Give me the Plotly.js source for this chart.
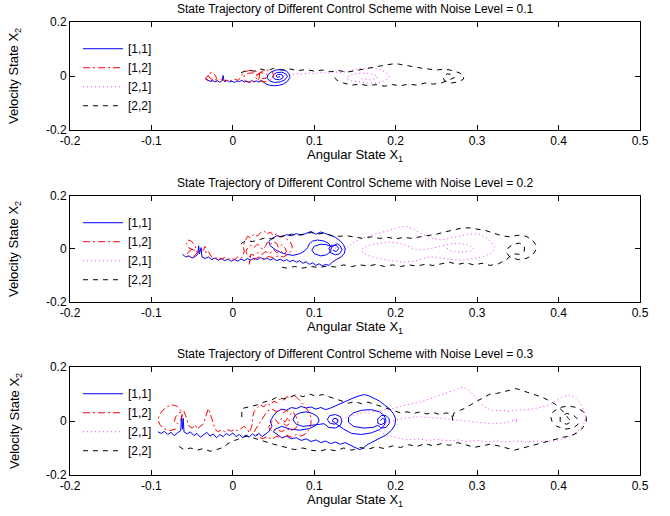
<!DOCTYPE html>
<html><head><meta charset="utf-8">
<script src="https://cdn.plot.ly/plotly-3.0.1.min.js"></script>
<style>html,body{margin:0;padding:0;background:#fff;}#plot{width:670px;height:516px;}</style>
</head><body><div id="plot"></div>
<script>
const noiseLevels = [0.1, 0.2, 0.3];
const seriesNames = ['[1,1]', '[1,2]', '[2,1]', '[2,2]'];
const xTickVals = [-0.2, -0.1, 0, 0.1, 0.2, 0.3, 0.4, 0.5];
const xTickText = ['-0.2', '-0.1', '0', '0.1', '0.2', '0.3', '0.4', '0.5'];
const yTickVals = [-0.2, 0, 0.2];
const yTickText = ['-0.2', '0', '0.2'];

// ---- Noise level 0.1 : [x1, x2] points ----
const n1_s11 = [[-0.034,-0.010],[-0.031,-0.016],[-0.028,-0.020],[-0.025,-0.015],[-0.022,-0.022],[-0.019,-0.018],[-0.016,-0.023],[-0.013,-0.017],[-0.012,0.002],[-0.011,-0.015],[-0.010,-0.021],[-0.007,-0.016],[-0.004,-0.022],[-0.001,-0.019],[0.002,-0.024],[0.005,-0.018],[0.008,-0.021],[0.011,-0.016],[0.014,-0.022],[0.017,-0.019],[0.020,-0.024],[0.023,-0.017],[0.026,-0.021],[0.029,-0.018],[0.032,-0.023],[0.035,-0.016],[0.038,-0.024],[0.041,-0.030],[0.045,-0.034],[0.050,-0.036],[0.056,-0.035],[0.062,-0.030],[0.067,-0.020],[0.070,-0.006],[0.069,0.008],[0.066,0.018],[0.060,0.024],[0.053,0.022],[0.047,0.015],[0.043,0.004],[0.042,-0.008],[0.045,-0.018],[0.051,-0.024],[0.058,-0.022],[0.064,-0.014],[0.067,-0.002],[0.065,0.008],[0.060,0.014],[0.054,0.013],[0.050,0.005],[0.049,-0.005],[0.052,-0.012],[0.057,-0.014],[0.061,-0.008],[0.062,0.000],[0.059,0.006],[0.055,0.006],[0.053,0.000],[0.055,-0.005],[0.058,-0.002]];
const n1_s12 = [[-0.030,0.002],[-0.033,-0.006],[-0.032,-0.015],[-0.028,-0.020],[-0.023,-0.018],[-0.020,-0.010],[-0.021,0.000],[-0.024,0.010],[-0.028,0.012],[-0.031,0.005],[-0.028,-0.008],[-0.024,-0.014],[-0.018,-0.016],[-0.014,-0.012],[-0.010,-0.018],[-0.006,-0.013],[-0.002,-0.017],[0.002,-0.011],[0.006,-0.016],[0.009,-0.008],[0.011,0.004],[0.014,0.014],[0.019,0.020],[0.025,0.021],[0.030,0.015],[0.033,0.004],[0.032,-0.010],[0.028,-0.020],[0.022,-0.024],[0.016,-0.020],[0.013,-0.010],[0.014,0.002],[0.019,0.010],[0.025,0.012],[0.029,0.006],[0.030,-0.004],[0.033,0.012],[0.038,0.020],[0.043,0.022],[0.048,0.016],[0.050,0.004],[0.048,-0.010],[0.043,-0.020],[0.037,-0.022],[0.031,-0.016],[0.028,-0.006],[0.030,0.006],[0.034,0.012],[0.040,0.010],[0.043,0.002],[0.041,-0.008],[0.036,-0.010]];
const n1_s21 = [[0.065,-0.005],[0.072,0.004],[0.078,0.010],[0.085,0.006],[0.092,0.012],[0.100,0.009],[0.108,0.014],[0.116,0.010],[0.124,0.016],[0.132,0.012],[0.140,0.018],[0.148,0.022],[0.156,0.026],[0.164,0.028],[0.172,0.030],[0.180,0.025],[0.187,0.015],[0.192,0.002],[0.190,-0.012],[0.183,-0.022],[0.174,-0.027],[0.164,-0.025],[0.154,-0.022],[0.146,-0.018],[0.140,-0.010],[0.142,0.000],[0.150,0.008],[0.160,0.010],[0.170,0.008],[0.178,0.000],[0.176,-0.010],[0.168,-0.014],[0.158,-0.010]];
const n1_s22 = [[0.010,0.012],[0.018,0.022],[0.026,0.018],[0.034,0.026],[0.042,0.020],[0.050,0.028],[0.060,0.022],[0.070,0.026],[0.080,0.020],[0.090,0.024],[0.100,0.018],[0.110,0.022],[0.120,0.016],[0.130,0.020],[0.140,0.014],[0.150,0.020],[0.160,0.026],[0.170,0.030],[0.180,0.036],[0.190,0.042],[0.200,0.046],[0.210,0.040],[0.220,0.034],[0.230,0.030],[0.240,0.026],[0.250,0.022],[0.260,0.026],[0.270,0.020],[0.278,0.012],[0.284,0.002],[0.283,-0.012],[0.277,-0.022],[0.268,-0.026],[0.260,-0.018],[0.258,-0.004],[0.263,0.008],[0.270,0.006],[0.272,-0.006],[0.266,-0.014],[0.256,-0.026],[0.246,-0.030],[0.236,-0.026],[0.226,-0.034],[0.216,-0.030],[0.206,-0.036],[0.196,-0.032],[0.186,-0.038],[0.176,-0.032],[0.166,-0.036],[0.156,-0.030],[0.146,-0.034],[0.136,-0.026],[0.128,-0.016],[0.124,-0.004]];

// ---- Noise level 0.2 ----
const n2_s11 = [[-0.062,-0.020],[-0.058,-0.030],[-0.054,-0.026],[-0.050,-0.034],[-0.046,-0.028],[-0.043,-0.020],[-0.042,0.012],[-0.041,-0.018],[-0.039,0.005],[-0.038,-0.030],[-0.034,-0.036],[-0.030,-0.030],[-0.026,-0.040],[-0.022,-0.034],[-0.018,-0.042],[-0.014,-0.036],[-0.010,-0.044],[-0.006,-0.038],[-0.002,-0.046],[0.002,-0.040],[0.006,-0.046],[0.010,-0.038],[0.014,-0.044],[0.018,-0.036],[0.022,-0.042],[0.026,-0.034],[0.030,-0.040],[0.034,-0.032],[0.038,-0.040],[0.042,-0.034],[0.046,-0.042],[0.050,-0.036],[0.054,-0.044],[0.058,-0.038],[0.062,-0.046],[0.066,-0.040],[0.070,-0.048],[0.074,-0.042],[0.078,-0.050],[0.082,-0.044],[0.086,-0.054],[0.090,-0.048],[0.094,-0.058],[0.098,-0.052],[0.102,-0.062],[0.106,-0.056],[0.110,-0.064],[0.114,-0.058],[0.118,-0.062],[0.122,-0.050],[0.127,-0.040],[0.133,-0.030],[0.137,-0.016],[0.138,0.000],[0.136,0.016],[0.132,0.030],[0.126,0.044],[0.120,0.052],[0.114,0.058],[0.108,0.064],[0.102,0.056],[0.096,0.066],[0.090,0.058],[0.084,0.052],[0.078,0.058],[0.072,0.050],[0.066,0.054],[0.060,0.046],[0.054,0.050],[0.048,0.040],[0.044,0.028],[0.046,0.012],[0.052,-0.002],[0.058,-0.012],[0.066,-0.020],[0.074,-0.024],[0.082,-0.018],[0.088,-0.008],[0.092,0.006],[0.094,0.020],[0.098,0.030],[0.104,0.034],[0.112,0.030],[0.118,0.020],[0.121,0.006],[0.120,-0.010],[0.115,-0.022],[0.108,-0.026],[0.100,-0.018],[0.097,-0.004],[0.100,0.010],[0.107,0.018],[0.115,0.016],[0.122,0.008],[0.128,0.020],[0.132,0.012],[0.134,-0.004],[0.131,-0.018],[0.126,-0.022],[0.120,-0.014],[0.118,0.002],[0.121,0.014],[0.127,0.014],[0.130,0.002],[0.127,-0.010],[0.123,-0.004]];
const n2_s12 = [[-0.050,0.000],[-0.055,-0.012],[-0.056,-0.024],[-0.052,-0.030],[-0.047,-0.026],[-0.044,-0.014],[-0.045,0.000],[-0.047,0.016],[-0.051,0.030],[-0.055,0.034],[-0.057,0.020],[-0.054,0.004],[-0.048,-0.004],[-0.042,-0.008],[-0.036,-0.004],[-0.034,0.010],[-0.033,-0.016],[-0.030,-0.010],[-0.026,-0.030],[-0.022,-0.036],[-0.018,-0.030],[-0.014,-0.038],[-0.010,-0.032],[-0.006,-0.040],[-0.002,-0.034],[0.002,-0.040],[0.006,-0.030],[0.009,-0.036],[0.012,-0.028],[0.014,-0.010],[0.013,0.010],[0.015,0.030],[0.018,0.048],[0.022,0.042],[0.026,0.056],[0.030,0.048],[0.034,0.062],[0.038,0.068],[0.042,0.056],[0.046,0.064],[0.050,0.050],[0.054,0.058],[0.058,0.044],[0.062,0.050],[0.066,0.038],[0.070,0.028],[0.073,0.012],[0.072,-0.006],[0.068,-0.020],[0.062,-0.030],[0.056,-0.026],[0.050,-0.034],[0.044,-0.028],[0.038,-0.036],[0.032,-0.030],[0.026,-0.040],[0.022,-0.032],[0.018,-0.024],[0.016,-0.010],[0.018,0.004],[0.022,0.014],[0.026,0.006],[0.030,0.018],[0.034,0.010],[0.036,-0.002],[0.040,0.010],[0.042,0.024],[0.046,0.016],[0.050,0.028],[0.054,0.020],[0.056,0.006],[0.060,0.016],[0.064,0.004],[0.066,-0.010],[0.062,-0.018],[0.058,-0.006],[0.054,-0.014],[0.050,-0.002],[0.046,-0.016],[0.040,-0.010],[0.036,-0.020],[0.030,-0.014],[0.026,-0.024],[0.022,-0.020],[0.020,-0.060],[0.021,-0.040]];
const n2_s21 = [[0.118,0.000],[0.124,0.012],[0.128,-0.006],[0.132,0.008],[0.138,0.000],[0.144,0.016],[0.150,0.028],[0.158,0.040],[0.166,0.048],[0.176,0.056],[0.186,0.064],[0.196,0.074],[0.204,0.082],[0.212,0.086],[0.220,0.078],[0.228,0.064],[0.236,0.050],[0.246,0.040],[0.256,0.034],[0.266,0.040],[0.276,0.048],[0.286,0.054],[0.296,0.058],[0.304,0.054],[0.312,0.040],[0.318,0.022],[0.322,0.004],[0.318,-0.014],[0.308,-0.028],[0.296,-0.036],[0.282,-0.042],[0.268,-0.040],[0.254,-0.034],[0.242,-0.030],[0.232,-0.038],[0.222,-0.046],[0.210,-0.050],[0.198,-0.046],[0.186,-0.040],[0.174,-0.032],[0.164,-0.022],[0.158,-0.010],[0.160,0.004],[0.168,0.014],[0.180,0.022],[0.192,0.026],[0.204,0.022],[0.214,0.012],[0.222,0.000],[0.232,-0.004],[0.244,0.002],[0.254,0.010],[0.264,0.018],[0.276,0.022],[0.288,0.016],[0.296,0.004],[0.292,-0.008],[0.280,-0.012],[0.268,-0.006],[0.262,0.004]];
const n2_s22 = [[0.010,0.020],[0.016,0.032],[0.024,0.028],[0.032,0.036],[0.040,0.042],[0.048,0.038],[0.056,0.046],[0.064,0.050],[0.072,0.056],[0.080,0.052],[0.088,0.058],[0.096,0.062],[0.104,0.056],[0.112,0.060],[0.120,0.052],[0.130,0.048],[0.140,0.050],[0.150,0.044],[0.160,0.040],[0.170,0.046],[0.180,0.040],[0.190,0.044],[0.200,0.038],[0.210,0.044],[0.220,0.040],[0.230,0.046],[0.240,0.050],[0.250,0.056],[0.260,0.064],[0.270,0.072],[0.280,0.078],[0.290,0.080],[0.300,0.076],[0.310,0.070],[0.320,0.060],[0.330,0.050],[0.340,0.046],[0.350,0.052],[0.360,0.048],[0.368,0.034],[0.372,0.016],[0.372,-0.004],[0.368,-0.024],[0.360,-0.036],[0.350,-0.040],[0.340,-0.030],[0.336,-0.014],[0.338,0.004],[0.344,0.018],[0.352,0.022],[0.358,0.010],[0.358,-0.008],[0.352,-0.020],[0.344,-0.018],[0.336,-0.040],[0.326,-0.056],[0.316,-0.062],[0.306,-0.054],[0.296,-0.060],[0.286,-0.052],[0.276,-0.058],[0.266,-0.050],[0.256,-0.056],[0.246,-0.062],[0.236,-0.058],[0.226,-0.064],[0.216,-0.060],[0.206,-0.066],[0.196,-0.060],[0.186,-0.066],[0.176,-0.058],[0.166,-0.064],[0.156,-0.060],[0.146,-0.066],[0.136,-0.060],[0.126,-0.068],[0.116,-0.064],[0.106,-0.070],[0.096,-0.066],[0.086,-0.072],[0.076,-0.066],[0.066,-0.072],[0.056,-0.066]];

// ---- Noise level 0.3 ----
const n3_s11 = [[-0.092,-0.040],[-0.088,-0.046],[-0.084,-0.038],[-0.080,-0.050],[-0.076,-0.042],[-0.072,-0.054],[-0.068,-0.044],[-0.064,-0.036],[-0.063,0.020],[-0.062,-0.030],[-0.061,0.010],[-0.060,-0.040],[-0.056,-0.048],[-0.052,-0.040],[-0.048,-0.054],[-0.044,-0.046],[-0.040,-0.060],[-0.036,-0.050],[-0.032,-0.042],[-0.028,-0.056],[-0.024,-0.048],[-0.020,-0.062],[-0.016,-0.050],[-0.012,-0.058],[-0.008,-0.046],[-0.004,-0.054],[0.000,-0.044],[0.004,-0.058],[0.008,-0.050],[0.012,-0.062],[0.016,-0.052],[0.020,-0.060],[0.024,-0.048],[0.028,-0.056],[0.032,-0.046],[0.036,-0.058],[0.040,-0.050],[0.044,-0.040],[0.048,-0.020],[0.046,0.000],[0.050,0.020],[0.054,0.034],[0.060,0.044],[0.066,0.040],[0.072,0.050],[0.078,0.046],[0.084,0.054],[0.090,0.048],[0.096,0.052],[0.102,0.044],[0.108,0.050],[0.114,0.042],[0.120,0.048],[0.126,0.056],[0.132,0.066],[0.138,0.072],[0.144,0.080],[0.150,0.088],[0.156,0.094],[0.162,0.098],[0.168,0.092],[0.174,0.082],[0.180,0.074],[0.186,0.060],[0.192,0.046],[0.197,0.028],[0.200,0.008],[0.199,-0.014],[0.195,-0.034],[0.188,-0.052],[0.180,-0.064],[0.172,-0.074],[0.166,-0.086],[0.160,-0.100],[0.156,-0.106],[0.150,-0.098],[0.144,-0.088],[0.138,-0.080],[0.132,-0.086],[0.126,-0.078],[0.120,-0.084],[0.114,-0.074],[0.108,-0.080],[0.102,-0.070],[0.096,-0.076],[0.090,-0.066],[0.084,-0.072],[0.078,-0.062],[0.072,-0.066],[0.066,-0.056],[0.060,-0.062],[0.054,-0.050],[0.050,-0.040],[0.052,-0.030],[0.060,-0.020],[0.070,-0.030],[0.082,-0.034],[0.094,-0.028],[0.102,-0.016],[0.106,0.000],[0.104,0.016],[0.098,0.028],[0.090,0.034],[0.082,0.030],[0.076,0.020],[0.074,0.004],[0.078,-0.012],[0.086,-0.020],[0.096,-0.016],[0.112,-0.010],[0.118,-0.024],[0.126,-0.026],[0.132,-0.016],[0.134,0.000],[0.132,0.016],[0.126,0.024],[0.119,0.020],[0.116,0.006],[0.119,-0.008],[0.125,-0.012],[0.129,-0.004],[0.128,0.008],[0.124,0.010],[0.122,0.000],[0.136,-0.030],[0.146,-0.046],[0.158,-0.050],[0.170,-0.044],[0.180,-0.032],[0.186,-0.016],[0.188,0.002],[0.186,0.020],[0.180,0.034],[0.170,0.042],[0.158,0.040],[0.148,0.030],[0.142,0.014],[0.142,-0.004],[0.148,-0.020],[0.160,-0.026],[0.172,-0.024],[0.178,-0.016],[0.182,-0.026],[0.188,-0.024],[0.192,-0.010],[0.192,0.008],[0.188,0.020],[0.182,0.020],[0.178,0.008],[0.178,-0.008],[0.182,-0.014],[0.186,-0.008],[0.187,0.004],[0.184,0.010],[0.181,0.002]];
const n3_s12 = [[-0.070,-0.030],[-0.078,-0.036],[-0.085,-0.028],[-0.090,-0.012],[-0.092,0.006],[-0.090,0.024],[-0.086,0.040],[-0.080,0.054],[-0.074,0.060],[-0.068,0.054],[-0.064,0.040],[-0.062,0.022],[-0.064,0.004],[-0.068,-0.010],[-0.072,-0.002],[-0.070,0.016],[-0.066,0.030],[-0.060,0.036],[-0.058,0.020],[-0.056,0.002],[-0.054,-0.018],[-0.050,-0.026],[-0.046,-0.014],[-0.044,-0.030],[-0.040,-0.020],[-0.036,-0.010],[-0.034,0.010],[-0.032,0.030],[-0.030,0.046],[-0.028,0.030],[-0.026,0.010],[-0.024,-0.010],[-0.022,-0.030],[-0.018,-0.040],[-0.014,-0.032],[-0.010,-0.040],[-0.006,-0.032],[-0.002,-0.038],[0.002,-0.030],[0.006,-0.036],[0.010,-0.028],[0.014,-0.020],[0.018,-0.030],[0.020,-0.044],[0.022,-0.030],[0.024,-0.010],[0.024,0.012],[0.026,0.034],[0.030,0.050],[0.034,0.060],[0.038,0.052],[0.042,0.066],[0.046,0.058],[0.050,0.074],[0.054,0.068],[0.058,0.082],[0.062,0.076],[0.066,0.090],[0.070,0.084],[0.074,0.096],[0.078,0.088],[0.082,0.078],[0.086,0.064],[0.090,0.048],[0.094,0.030],[0.096,0.010],[0.096,-0.010],[0.094,-0.030],[0.090,-0.046],[0.084,-0.056],[0.078,-0.050],[0.072,-0.060],[0.066,-0.052],[0.060,-0.064],[0.054,-0.056],[0.048,-0.068],[0.042,-0.058],[0.036,-0.066],[0.030,-0.054],[0.026,-0.040],[0.030,-0.020],[0.034,0.000],[0.038,0.020],[0.042,0.036],[0.048,0.044],[0.054,0.034],[0.058,0.046],[0.062,0.030],[0.066,0.040],[0.070,0.024],[0.074,0.034],[0.078,0.014],[0.080,-0.006],[0.078,-0.024],[0.072,-0.036],[0.066,-0.028],[0.060,-0.040],[0.054,-0.030],[0.048,-0.038],[0.044,-0.024],[0.046,-0.006],[0.052,0.006],[0.056,-0.010],[0.060,0.010],[0.064,-0.004],[0.068,0.014],[0.070,-0.008],[0.066,-0.018],[0.062,-0.008]];
const n3_s21 = [[0.120,-0.010],[0.128,0.000],[0.136,0.012],[0.146,0.020],[0.156,0.028],[0.166,0.032],[0.176,0.036],[0.186,0.040],[0.196,0.046],[0.206,0.054],[0.216,0.060],[0.226,0.068],[0.236,0.076],[0.246,0.086],[0.256,0.096],[0.266,0.106],[0.276,0.118],[0.282,0.126],[0.288,0.118],[0.294,0.100],[0.300,0.080],[0.306,0.060],[0.312,0.046],[0.320,0.038],[0.330,0.040],[0.340,0.036],[0.350,0.042],[0.360,0.040],[0.370,0.046],[0.380,0.052],[0.390,0.062],[0.398,0.078],[0.406,0.090],[0.414,0.096],[0.420,0.088],[0.426,0.070],[0.430,0.046],[0.433,0.020],[0.432,-0.006],[0.426,-0.030],[0.418,-0.050],[0.408,-0.064],[0.396,-0.072],[0.384,-0.076],[0.372,-0.074],[0.360,-0.078],[0.348,-0.074],[0.336,-0.078],[0.324,-0.074],[0.312,-0.078],[0.300,-0.072],[0.288,-0.076],[0.276,-0.070],[0.264,-0.074],[0.252,-0.068],[0.240,-0.072],[0.228,-0.066],[0.216,-0.070],[0.204,-0.064],[0.194,-0.056],[0.186,-0.048],[0.180,-0.036],[0.184,-0.010],[0.196,0.000],[0.210,0.010],[0.224,0.016],[0.240,0.014],[0.256,0.010],[0.272,0.004],[0.288,0.000],[0.304,-0.006],[0.320,-0.010],[0.336,-0.006],[0.346,0.002],[0.350,0.008],[0.346,-0.004],[0.352,0.000]];
const n3_s22 = [[-0.066,-0.094],[-0.060,-0.106],[-0.052,-0.100],[-0.044,-0.108],[-0.036,-0.102],[-0.028,-0.112],[-0.020,-0.106],[-0.012,-0.098],[-0.006,-0.084],[0.000,-0.074],[0.006,-0.068],[0.012,-0.060],[0.018,-0.056],[0.026,-0.064],[0.034,-0.072],[0.042,-0.080],[0.050,-0.086],[0.058,-0.092],[0.066,-0.098],[0.076,-0.106],[0.086,-0.100],[0.096,-0.108],[0.106,-0.112],[0.116,-0.104],[0.126,-0.110],[0.136,-0.100],[0.146,-0.108],[0.156,-0.098],[0.166,-0.104],[0.176,-0.096],[0.186,-0.102],[0.196,-0.092],[0.206,-0.098],[0.216,-0.088],[0.226,-0.094],[0.236,-0.084],[0.246,-0.092],[0.256,-0.084],[0.266,-0.090],[0.276,-0.080],[0.286,-0.088],[0.296,-0.098],[0.306,-0.092],[0.316,-0.086],[0.326,-0.092],[0.336,-0.100],[0.346,-0.108],[0.356,-0.100],[0.366,-0.092],[0.376,-0.084],[0.386,-0.076],[0.396,-0.066],[0.406,-0.060],[0.416,-0.054],[0.424,-0.042],[0.430,-0.024],[0.434,-0.004],[0.434,0.018],[0.430,0.036],[0.422,0.050],[0.412,0.056],[0.402,0.050],[0.394,0.036],[0.390,0.018],[0.392,-0.002],[0.398,-0.020],[0.408,-0.030],[0.418,-0.026],[0.424,-0.012],[0.424,0.006],[0.418,0.022],[0.410,0.028],[0.402,0.016],[0.402,-0.004],[0.410,-0.012],[0.416,-0.002],[0.412,0.010],[0.404,0.040],[0.396,0.062],[0.388,0.076],[0.380,0.088],[0.372,0.096],[0.364,0.104],[0.356,0.114],[0.348,0.120],[0.340,0.114],[0.332,0.108],[0.324,0.102],[0.316,0.100],[0.308,0.088],[0.300,0.074],[0.292,0.060],[0.284,0.046],[0.276,0.036],[0.271,0.028],[0.270,0.000],[0.269,0.026],[0.262,0.030],[0.254,0.024],[0.246,0.032],[0.238,0.026],[0.230,0.034],[0.222,0.028],[0.214,0.034],[0.206,0.030],[0.198,0.038],[0.190,0.046],[0.182,0.054],[0.174,0.062],[0.166,0.070],[0.158,0.064],[0.150,0.072],[0.142,0.066],[0.134,0.074],[0.126,0.082],[0.118,0.090],[0.110,0.098],[0.102,0.092],[0.094,0.100],[0.086,0.090],[0.078,0.098],[0.070,0.088],[0.062,0.082],[0.054,0.088],[0.046,0.076],[0.038,0.070],[0.030,0.060],[0.022,0.054],[0.014,0.050],[0.011,0.046],[0.011,0.000]];

const panels = [
  [n1_s11, n1_s12, n1_s21, n1_s22],
  [n2_s11, n2_s12, n2_s21, n2_s22],
  [n3_s11, n3_s12, n3_s21, n3_s22]
];
const lineStyles = [
  {color: '#0000ff', width: 1, dash: 'solid'},
  {color: '#ff0000', width: 1, dash: '7px,3px,2px,3px'},
  {color: '#ff33ff', width: 1, dash: '1px,3px'},
  {color: '#000000', width: 1, dash: '5px,5px'}
];
const FONT = 'Liberation Sans, Arial, Helvetica, sans-serif';
const domains = [[0.7616, 1], [0.3819, 0.6159], [0, 0.2384]];
const legendNames = ['legend', 'legend2', 'legend3'];

const traces = [];
panels.forEach((series, p) => {
  series.forEach((pts, s) => {
    traces.push({
      type: 'scatter', mode: 'lines',
      x: pts.map(d => d[0]), y: pts.map(d => d[1]),
      name: seriesNames[s],
      line: lineStyles[s],
      xaxis: p === 0 ? 'x' : 'x' + (p + 1),
      yaxis: p === 0 ? 'y' : 'y' + (p + 1),
      legend: legendNames[p],
      hoverinfo: 'skip'
    });
  });
});

const layout = {
  width: 670, height: 516,
  margin: {l: 70, r: 30, t: 22, b: 41},
  paper_bgcolor: '#fff', plot_bgcolor: '#fff',
  font: {family: FONT, size: 12, color: '#000'},
  showlegend: true,
  annotations: []
};
domains.forEach((dom, p) => {
  const xk = p === 0 ? 'xaxis' : 'xaxis' + (p + 1);
  const yk = p === 0 ? 'yaxis' : 'yaxis' + (p + 1);
  const yref = p === 0 ? 'y' : 'y' + (p + 1);
  const xref = p === 0 ? 'x' : 'x' + (p + 1);
  layout[xk] = {
    domain: [0, 1], anchor: yref, range: [-0.2, 0.5],
    tickmode: 'array', tickvals: xTickVals, ticktext: xTickText,
    ticks: 'inside', ticklen: 5, tickcolor: '#000', tickwidth: 1,
    showline: true, linecolor: '#000', linewidth: 1, mirror: 'ticks',
    showgrid: false, zeroline: false,
    tickfont: {size: 12, family: FONT}
  };
  layout[yk] = {
    domain: dom, anchor: xref, range: [-0.2, 0.2],
    tickmode: 'array', tickvals: yTickVals, ticktext: yTickText,
    ticks: 'inside', ticklen: 5, tickcolor: '#000', tickwidth: 1,
    showline: true, linecolor: '#000', linewidth: 1, mirror: 'ticks',
    showgrid: false, zeroline: false,
    tickfont: {size: 12, family: FONT}
  };
  layout[legendNames[p]] = {
    x: 0.014, xanchor: 'left', y: dom[1] - 0.027, yanchor: 'top',
    bgcolor: 'rgba(255,255,255,0)', borderwidth: 0,
    font: {size: 12, family: FONT}, tracegroupgap: 0, itemwidth: 40
  };
  layout.annotations.push({
    text: 'State Trajectory of Different Control Scheme with Noise Level = ' + noiseLevels[p],
    xref: 'paper', yref: 'paper', x: 0.5, y: dom[1], xanchor: 'center', yanchor: 'bottom',
    yshift: 4, showarrow: false, font: {size: 12, family: FONT}
  });
  layout.annotations.push({
    text: 'Angular State X<sub>1</sub>',
    xref: 'paper', yref: 'paper', x: 0.5, y: dom[0], xanchor: 'center', yanchor: 'top',
    yshift: -16, borderpad: 0, showarrow: false, font: {size: 13, family: FONT}
  });
  layout.annotations.push({
    text: 'Velocity State X<sub>2</sub>', textangle: -90,
    xref: 'paper', yref: 'paper', x: 0, y: (dom[0] + dom[1]) / 2, xanchor: 'center', yanchor: 'middle',
    xshift: -55, showarrow: false, font: {size: 13, family: FONT}
  });
});

Plotly.newPlot('plot', traces, layout, {displayModeBar: false, staticPlot: true});
</script></body></html>
